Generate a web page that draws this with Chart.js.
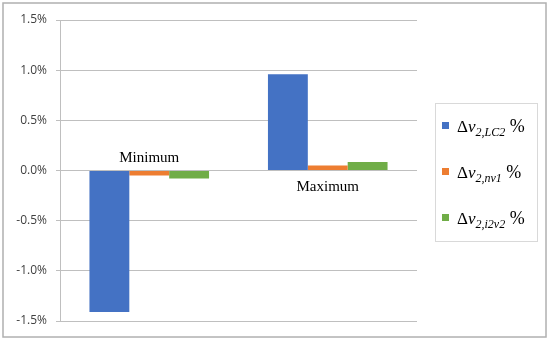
<!DOCTYPE html>
<html>
<head>
<meta charset="utf-8">
<script src="https://cdn.jsdelivr.net/npm/chart.js@4.4.1/dist/chart.umd.min.js"></script>
<style>
  html, body { margin: 0; padding: 0; background: #fff; }
  #wrap { width: 550px; height: 341px; }
</style>
</head>
<body>
<div id="wrap"><canvas id="grafico"></canvas></div>
<script>
// Datos del gráfico (en %)
var categorias = ["Minimum", "Maximum"];
var serieLC2 = [-1.41, 0.96];
var serieNv1 = [-0.05, 0.05];
var serieI2v2 = [-0.08, 0.085];
var ticksY = [-1.5, -1.0, -0.5, 0.0, 0.5, 1.0, 1.5];

// Etiquetas de leyenda: base, subíndice, sufijo
var leyenda = [
  { base: "\u0394", v: "v", sub: "2,LC2", suf: " %" },
  { base: "\u0394", v: "v", sub: "2,nv1", suf: " %" },
  { base: "\u0394", v: "v", sub: "2,i2v2", suf: " %" }
];
var colores = ["#4472C4", "#ED7D31", "#70AD47"];

// Marco exterior
var marco = {
  id: "marco",
  beforeDraw: function (chart) {
    var ctx = chart.ctx;
    ctx.save();
    ctx.fillStyle = "#fff";
    ctx.fillRect(0, 0, chart.width, chart.height);
    ctx.strokeStyle = "#b0b0b0";
    ctx.lineWidth = 1.5;
    ctx.strokeRect(3, 3, 543, 334);
    ctx.restore();
  }
};

// Etiquetas de categoría junto a la línea del cero
var etiquetasCat = {
  id: "etiquetasCat",
  afterDatasetsDraw: function (chart) {
    var ctx = chart.ctx;
    var x = chart.scales.x, y = chart.scales.y;
    var y0 = y.getPixelForValue(0);
    ctx.save();
    ctx.font = "15px 'Liberation Serif', serif";
    ctx.fillStyle = "#000";
    ctx.textAlign = "center";
    categorias.forEach(function (c, i) {
      var px = x.getPixelForValue(i);
      if (serieLC2[i] < 0) {
        ctx.textBaseline = "alphabetic";
        ctx.fillText(c, px, y0 - 9);
      } else {
        ctx.textBaseline = "alphabetic";
        ctx.fillText(c, px, y0 + 20);
      }
    });
    ctx.restore();
  }
};

// Leyenda propia con subíndices
var leyendaPropia = {
  id: "leyendaPropia",
  afterDraw: function (chart) {
    var ctx = chart.ctx;
    ctx.save();
    ctx.strokeStyle = "#d9d9d9";
    ctx.lineWidth = 1;
    ctx.strokeRect(435.5, 103.5, 102, 138);
    var ys = [126, 172, 218];
    leyenda.forEach(function (e, i) {
      var yy = ys[i];
      ctx.fillStyle = colores[i];
      ctx.fillRect(442, yy - 4, 7, 7);
      ctx.fillStyle = "#000";
      ctx.textBaseline = "alphabetic";
      ctx.textAlign = "left";
      var x = 457;
      var base = yy + 6;
      ctx.font = "17px 'Liberation Serif', serif";
      ctx.fillText(e.base, x, base);
      x += ctx.measureText(e.base).width;
      ctx.font = "italic 17px 'Liberation Serif', serif";
      ctx.fillText(e.v, x, base);
      x += ctx.measureText(e.v).width;
      ctx.font = "italic 12px 'Liberation Serif', serif";
      ctx.fillText(e.sub, x, base + 4);
      x += ctx.measureText(e.sub).width;
      ctx.font = "18px 'Liberation Serif', serif";
      ctx.fillText(e.suf, x, base);
    });
    ctx.restore();
  }
};

var ctx = document.getElementById("grafico").getContext("2d");
new Chart(ctx, {
  type: "bar",
  data: {
    labels: categorias,
    datasets: [
      { label: "\u0394v2,LC2 %", data: serieLC2, backgroundColor: colores[0] },
      { label: "\u0394v2,nv1 %", data: serieNv1, backgroundColor: colores[1] },
      { label: "\u0394v2,i2v2 %", data: serieI2v2, backgroundColor: colores[2] }
    ]
  },
  options: {
    responsive: true,
    maintainAspectRatio: false,
    animation: false,
    layout: { padding: { left: 0, top: 20, right: 133, bottom: 20 } },
    datasets: { bar: { categoryPercentage: 0.67, barPercentage: 1.0 } },
    plugins: {
      legend: { display: false },
      tooltip: { enabled: false }
    },
    scales: {
      x: { display: false },
      y: {
        min: -1.5,
        max: 1.5,
        afterFit: function (s) { s.width = 60; },
        afterBuildTicks: function (s) {
          s.ticks = ticksY.map(function (v) { return { value: v }; });
        },
        ticks: {
          padding: 9,
          color: "#404040",
          font: { family: "'Open Sans', sans-serif", size: 12 },
          callback: function (v) { return Number(v).toFixed(1) + "%"; }
        },
        grid: { color: "#bfbfbf", lineWidth: 1, tickLength: 4 },
        border: { color: "#bfbfbf" }
      }
    }
  },
  plugins: [marco, etiquetasCat, leyendaPropia]
});
</script>
</body>
</html>
